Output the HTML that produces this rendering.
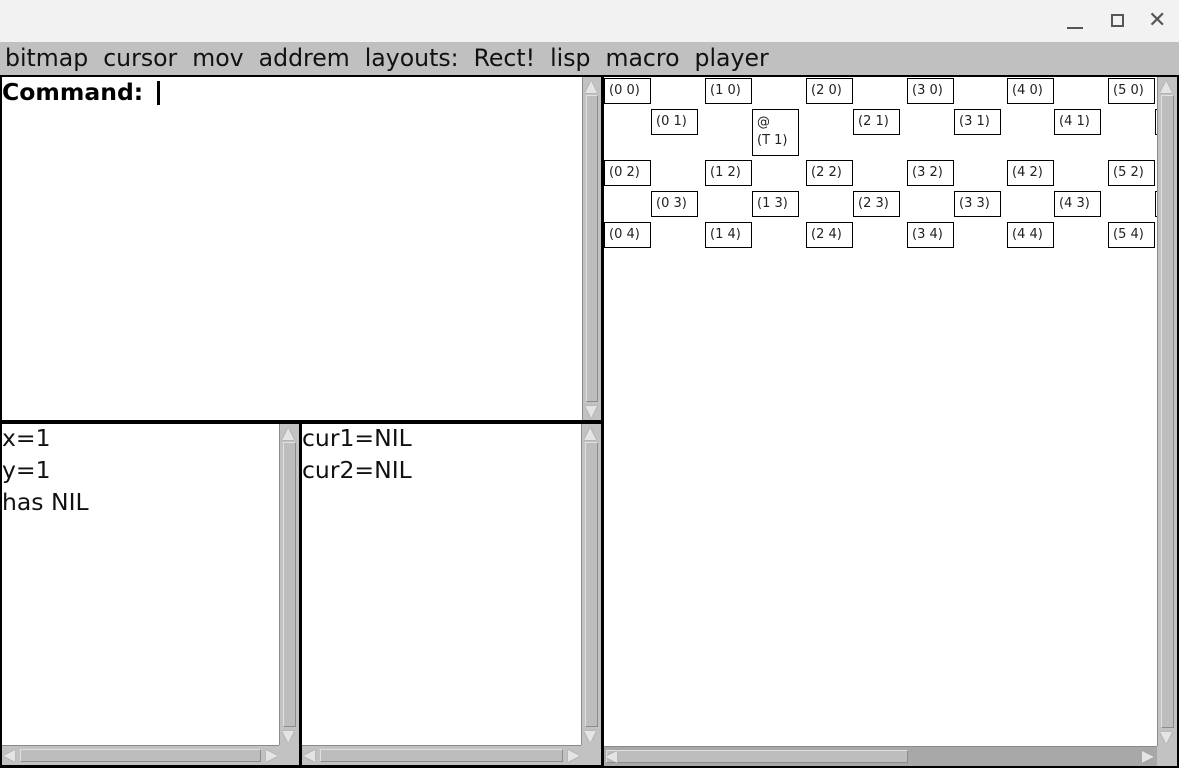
<!DOCTYPE html>
<html><head><meta charset="utf-8"><style>
*{margin:0;padding:0;box-sizing:border-box}
body{width:1179px;height:768px;position:relative;overflow:hidden;background:#000;font-family:"DejaVu Sans","Liberation Sans",sans-serif}
.a{position:absolute}
.white{background:#fff}
.vs{position:absolute;background:#c2c2c2;border-left:1px solid #8a8a8a}
.vs .th{position:absolute;left:3px;right:3px;background:#bdbdbd;border:1px solid #8c8c8c;border-top-color:#e0e0e0;border-left-color:#e0e0e0}
.hs{position:absolute;background:#c2c2c2;border-top:1px solid #8a8a8a}
.hs .th{position:absolute;top:3px;bottom:3px;background:#bdbdbd;border:1px solid #8c8c8c;border-top-color:#e0e0e0;border-left-color:#e0e0e0}
.tri{position:absolute;font-size:16px;color:#e4e4e4;line-height:16px;text-shadow:0 0 1px #666}
.corner{position:absolute;background:#c2c2c2}
.txt{font-size:23.5px;color:#111;line-height:32px;position:absolute}
.b{position:absolute;border:1px solid #000;background:#fff;width:47px;height:26px;font-size:13px;line-height:16px;padding:4px 0 0 4px;color:#222}
</style></head><body>
<div class="a" style="left:0;top:0;width:1179px;height:42px;background:#f2f2f2"></div>
<div class="a" style="left:1067px;top:27px;width:16px;height:2px;background:#555"></div>
<div class="a" style="left:1111px;top:14px;width:13px;height:13px;border:2px solid #555"></div>
<div class="a" style="left:1148px;top:8px;font-size:22px;color:#555">✕</div>
<div class="a" style="left:0;top:42px;width:1179px;height:33px;background:#c0c0c0"></div>
<div class="a" style="left:5px;top:43px;font-size:23.6px;line-height:30px;color:#111;white-space:pre">bitmap  cursor  mov  addrem  layouts:  Rect!  lisp  macro  player</div>

<div class="a white" style="left:2px;top:77px;width:581px;height:343px"></div>
<div class="a" style="left:2px;top:76px;font-size:23.5px;font-weight:bold;line-height:32px">Command:</div>
<div class="a" style="left:157px;top:81px;width:3px;height:24px;background:#000"></div>
<div class="vs" style="left:582px;top:77px;width:19px;height:343px"><div class="th" style="top:18px;bottom:18px"></div><div class="tri" style="left:2px;top:1px">▲</div><div class="tri" style="left:2px;bottom:1px">▼</div></div>

<div class="a white" style="left:2px;top:424px;width:277px;height:321px"></div>
<div class="txt" style="left:2px;top:422px">x=1<br>y=1<br>has NIL</div>
<div class="vs" style="left:279px;top:424px;width:20px;height:321px"><div class="th" style="top:18px;bottom:18px"></div><div class="tri" style="left:2px;top:1px">▲</div><div class="tri" style="left:2px;bottom:1px">▼</div></div>
<div class="hs" style="left:2px;top:745px;width:277px;height:20px"><div class="th" style="left:18px;right:18px"></div><div class="tri" style="left:1px;top:1px">◀</div><div class="tri" style="right:1px;top:1px">▶</div></div>
<div class="corner" style="left:279px;top:745px;width:20px;height:20px"></div>

<div class="a white" style="left:302px;top:424px;width:279px;height:321px"></div>
<div class="txt" style="left:302px;top:422px">cur1=NIL<br>cur2=NIL</div>
<div class="vs" style="left:581px;top:424px;width:20px;height:321px"><div class="th" style="top:18px;bottom:18px"></div><div class="tri" style="left:2px;top:1px">▲</div><div class="tri" style="left:2px;bottom:1px">▼</div></div>
<div class="hs" style="left:302px;top:745px;width:279px;height:20px"><div class="th" style="left:18px;right:18px"></div><div class="tri" style="left:1px;top:1px">◀</div><div class="tri" style="right:1px;top:1px">▶</div></div>
<div class="corner" style="left:581px;top:745px;width:20px;height:20px"></div>

<div class="a white" style="left:604px;top:77px;width:553px;height:669px"></div>
<div class="b" style="left:604px;top:78px">(0 0)</div>
<div class="b" style="left:705px;top:78px">(1 0)</div>
<div class="b" style="left:806px;top:78px">(2 0)</div>
<div class="b" style="left:907px;top:78px">(3 0)</div>
<div class="b" style="left:1007px;top:78px">(4 0)</div>
<div class="b" style="left:1108px;top:78px">(5 0)</div>
<div class="b" style="left:651px;top:109px">(0 1)</div>
<div class="b" style="left:752px;top:109px;height:47px;line-height:18px">@<br>(T 1)</div>
<div class="b" style="left:853px;top:109px">(2 1)</div>
<div class="b" style="left:954px;top:109px">(3 1)</div>
<div class="b" style="left:1054px;top:109px">(4 1)</div>
<div class="b" style="left:1155px;top:109px;width:3px"></div>
<div class="b" style="left:604px;top:160px">(0 2)</div>
<div class="b" style="left:705px;top:160px">(1 2)</div>
<div class="b" style="left:806px;top:160px">(2 2)</div>
<div class="b" style="left:907px;top:160px">(3 2)</div>
<div class="b" style="left:1007px;top:160px">(4 2)</div>
<div class="b" style="left:1108px;top:160px">(5 2)</div>
<div class="b" style="left:651px;top:191px">(0 3)</div>
<div class="b" style="left:752px;top:191px">(1 3)</div>
<div class="b" style="left:853px;top:191px">(2 3)</div>
<div class="b" style="left:954px;top:191px">(3 3)</div>
<div class="b" style="left:1054px;top:191px">(4 3)</div>
<div class="b" style="left:1155px;top:191px;width:3px"></div>
<div class="b" style="left:604px;top:222px">(0 4)</div>
<div class="b" style="left:705px;top:222px">(1 4)</div>
<div class="b" style="left:806px;top:222px">(2 4)</div>
<div class="b" style="left:907px;top:222px">(3 4)</div>
<div class="b" style="left:1007px;top:222px">(4 4)</div>
<div class="b" style="left:1108px;top:222px">(5 4)</div>
<div class="vs" style="left:1157px;top:77px;width:20px;height:669px"><div class="th" style="top:18px;bottom:18px"></div><div class="tri" style="left:2px;top:1px">▲</div><div class="tri" style="left:2px;bottom:1px">▼</div></div>
<div class="hs" style="left:604px;top:746px;width:553px;height:20px;background:#a8a8a8"><div class="th" style="left:2px;width:302px"></div><div class="tri" style="left:1px;top:1px">◀</div><div class="tri" style="right:3px;top:1px">▶</div></div>
<div class="corner" style="left:1157px;top:746px;width:20px;height:20px"></div>
</body></html>
